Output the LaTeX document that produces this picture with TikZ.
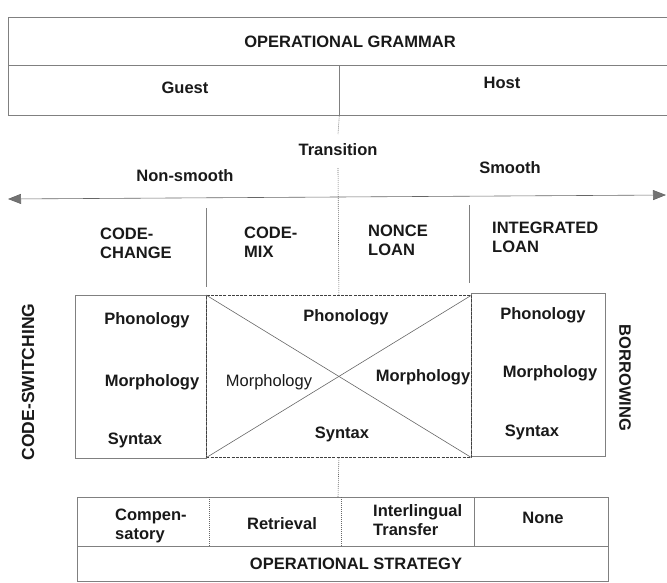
\documentclass[tikz,border=0pt]{standalone}
\usepackage{fontspec}
\setmainfont{Liberation Sans}
\usetikzlibrary{arrows.meta}
\begin{document}
\begin{tikzpicture}[x=1pt,y=-1pt,
  line/.style={draw=black!50, line width=0.6pt},
  dotline/.style={draw=black!60, line width=0.6pt, dash pattern=on 1pt off 1pt},
  dashbox/.style={draw=black!75, line width=0.8pt, dash pattern=on 3pt off 1.2pt},
  box/.style={line, rectangle, inner sep=0pt, anchor=north west},
  txt/.style={font=\fontsize{16.5}{19}\selectfont\bfseries, text=black!90, inner sep=0pt, align=left},
  rtxt/.style={font=\fontsize{16.5}{19}\selectfont, text=black!90, inner sep=0pt, align=left},
  gtip/.tip={Triangle[length=13pt,width=10pt,fill=black!55]}]
\useasboundingbox (0,0) rectangle (667,582);

% top boxes
\node[box, minimum width=662pt, minimum height=48pt] (og) at (8,17) {};
\node[box, minimum width=662pt, minimum height=50pt] (gh) at (8,65) {};
\node[txt] (ogt) at (350,42) {OPERATIONAL GRAMMAR};
\node[txt] (guest) at (185,88) {Guest};
\node[txt] (host) at (502,83) {Host};
\draw[line] (gh.north) -- (gh.south);

% transition
\node[txt] (trans) at (338,150) {Transition};
\node[txt] (nons) at (185,176) {Non-smooth};
\node[txt] (smooth) at (510,168) {Smooth};
\coordinate (al) at (8,199);
\coordinate (ar) at (666,195);
\draw[line, draw=black!60, gtip-gtip] (al) -- (ar);

% column headers
\node[txt, anchor=west] (cc) at (100,243.5) {CODE-\\CHANGE};
\node[txt, anchor=west] (cm) at (244,242.5) {CODE-\\MIX};
\node[txt, anchor=west] (nl) at (368,240) {NONCE\\LOAN};
\node[txt, anchor=west] (il) at (492,237.5) {INTEGRATED\\LOAN};
\coordinate (d1t) at (206,208); \coordinate (d1b) at (206,287);
\coordinate (d3t) at (469,205); \coordinate (d3b) at (469,283);
\draw[line] (d1t) -- (d1b);
\draw[line] (d3t) -- (d3b);

% middle boxes
\node[box, minimum width=131pt, minimum height=163pt] (lbox) at (75,295) {};
\node[box, minimum width=134pt, minimum height=163pt] (rbox) at (471,293) {};
\node[box, dashbox, minimum width=265pt, minimum height=162pt] (cbox) at (206,295) {};
\draw[line, draw=black!60] (cbox.north west) -- (cbox.south east);
\draw[line, draw=black!60] (cbox.south west) -- (cbox.north east);

\node[txt] (lp) at (147,320) {Phonology};
\node[txt] (lm) at (152,382) {Morphology};
\node[txt] (ls) at (135,440) {Syntax};
\node[txt] (cp) at (346,317) {Phonology};
\node[rtxt] (cml) at (269,382) {Morphology};
\node[txt] (cmr) at (423,377) {Morphology};
\node[txt] (cs) at (342,434) {Syntax};
\node[txt] (rp) at (543,315) {Phonology};
\node[txt] (rm) at (550,373) {Morphology};
\node[txt] (rs) at (532,432) {Syntax};

\node[txt, font=\fontsize{17.5}{20}\selectfont\bfseries, rotate=90] (csw) at (28,382) {CODE-SWITCHING};
\node[txt, rotate=-90] (bor) at (625,378) {BORROWING};

% strategy boxes
\node[box, minimum width=531pt, minimum height=49pt] (s1) at (77,497) {};
\node[box, minimum width=531pt, minimum height=35pt] (s2) at (77,546) {};
\coordinate (e1t) at (209,497); \coordinate (e1b) at (209,546);
\coordinate (e2t) at (341,497); \coordinate (e2b) at (341,546);
\coordinate (e3t) at (474,497); \coordinate (e3b) at (474,546);
\draw[dotline] (e1t) -- (e1b);
\draw[dotline] (e2t) -- (e2b);
\draw[line] (e3t) -- (e3b);
\node[txt, anchor=west] (comp) at (115,526) {Compen-\\satory};
\node[txt] (retr) at (282,524) {Retrieval};
\node[txt, anchor=west] (inter) at (373,520) {Interlingual\\Transfer};
\node[txt] (none) at (543,518) {None};
\node[txt] (ost) at (356,564) {OPERATIONAL STRATEGY};

% central dotted axis
\coordinate (ax1) at (338,134);
\coordinate (ax2) at (338,168);
\coordinate (ax3) at (338,497);
\draw[dotline] (gh.south) -- (ax1);
\draw[dotline] (ax2) -- (cbox.north);
\draw[dotline] (cbox.south) -- (ax3);
\end{tikzpicture}
\end{document}
